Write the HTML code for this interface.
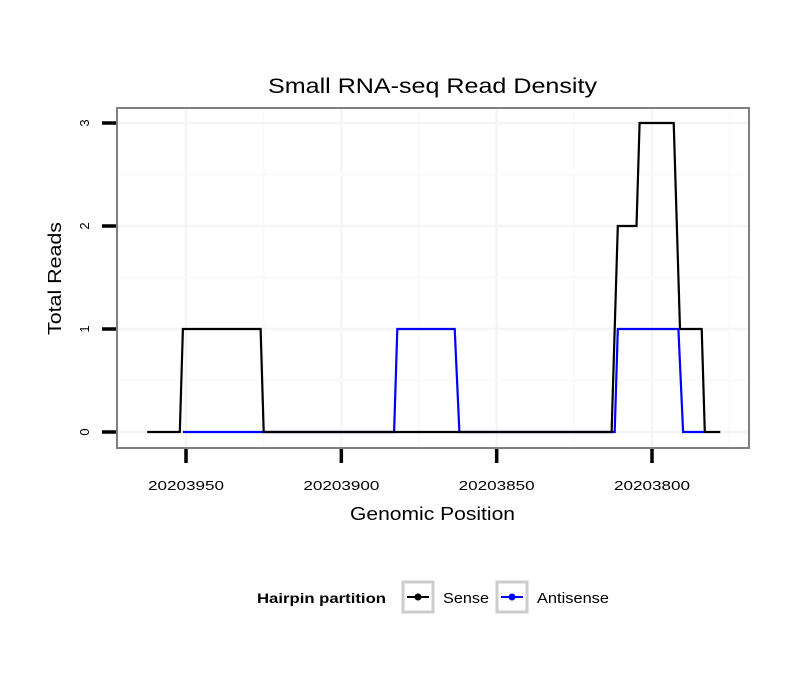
<!DOCTYPE html>
<html><head><meta charset="utf-8"><style>
body{margin:0;background:#fff;}
svg{display:block;font-family:"Liberation Sans",sans-serif;}
</style></head><body>
<svg id="chart" width="810" height="690">
<rect width="810" height="690" fill="#fff"/>
<text x="268" y="93" font-size="21" textLength="329" lengthAdjust="spacingAndGlyphs">Small RNA-seq Read Density</text>
<g id="grid"></g>
<g id="series"></g>
<rect x="117" y="108" width="632" height="340" fill="none" stroke="#7f7f7f" stroke-width="2"/>
<g id="axes"></g>
<text x="350" y="520" font-size="18" textLength="165" lengthAdjust="spacingAndGlyphs">Genomic Position</text>
<text transform="translate(61,335) rotate(-90)" font-size="18" textLength="113" lengthAdjust="spacingAndGlyphs">Total Reads</text>
<g>
<text x="257" y="603" font-size="14" font-weight="bold" textLength="129" lengthAdjust="spacingAndGlyphs">Hairpin partition</text>
<g>
<rect x="403" y="582" width="30" height="30" fill="#fff" stroke="#ccc" stroke-width="3"/>
<line x1="407" y1="597" x2="429" y2="597" stroke="#000" stroke-width="2"/>
<circle cx="418" cy="597" r="3.5" fill="#000"/>
<text x="443" y="603" font-size="15" textLength="46" lengthAdjust="spacingAndGlyphs">Sense</text>
</g>
<g>
<rect x="497" y="582" width="30" height="30" fill="#fff" stroke="#ccc" stroke-width="3"/>
<line x1="501" y1="597" x2="523" y2="597" stroke="#00f" stroke-width="2"/>
<circle cx="512" cy="597" r="3.5" fill="#00f"/>
<text x="537" y="603" font-size="15" textLength="72" lengthAdjust="spacingAndGlyphs">Antisense</text>
</g>
</g>
</svg>
<script>
const xTicks = [20203950, 20203900, 20203850, 20203800];
const yTicks = [0, 1, 2, 3];
const senseX = [20203962.5, 20203952, 20203951, 20203926, 20203925, 20203813, 20203811, 20203805, 20203804, 20203793, 20203791, 20203784, 20203783, 20203778];
const senseY = [0, 0, 1, 1, 0, 0, 2, 2, 3, 3, 1, 1, 0, 0];
const antiX = [20203951, 20203883, 20203882, 20203863.5, 20203862, 20203812, 20203811, 20203791.5, 20203790, 20203783];
const antiY = [0, 0, 1, 1, 0, 0, 1, 1, 0, 0];

const NS = "http://www.w3.org/2000/svg";
function xs(v){ return 186 + (20203950 - v) * (652 - 186) / 150; }
function ys(v){ return 432 - v * 103; }
function mk(tag, attrs, parent){ const e = document.createElementNS(NS, tag); for (const k in attrs) e.setAttribute(k, attrs[k]); parent.appendChild(e); return e; }

const grid = document.getElementById('grid');
const axes = document.getElementById('axes');
const step = xs(xTicks[1]) - xs(xTicks[0]);
for (let i = 0; i < xTicks.length; i++) {
  const x = xs(xTicks[i]);
  const g = mk('line', {x1:x, x2:x, y1:109, y2:447, stroke:'#f5f5f5', 'stroke-width':2.5}, grid);
  
  
  const m = mk('line', {x1:x+step/2, x2:x+step/2, y1:109, y2:447, stroke:'#fafafa', 'stroke-width':2}, grid);
  
  
  const t = mk('line', {x1:x, x2:x, y1:449, y2:463, stroke:'#000', 'stroke-width':3.5}, axes);
  
  
  const l = mk('text', {x:x-38, y:490, 'font-size':13, textLength:76, lengthAdjust:'spacingAndGlyphs'}, axes);
  l.textContent = xTicks[i];
  
  
}
for (let i = 0; i < yTicks.length; i++) {
  const y = ys(yTicks[i]);
  const g = mk('line', {x1:118, x2:748, y1:y, y2:y, stroke:'#f5f5f5', 'stroke-width':2.5}, grid);
  
  
  if (i < yTicks.length - 1) {
    const ym = ys(yTicks[i] + 0.5);
    const m = mk('line', {x1:118, x2:748, y1:ym, y2:ym, stroke:'#fafafa', 'stroke-width':2}, grid);
    
    
  }
  const t = mk('line', {x1:102, x2:116, y1:y, y2:y, stroke:'#000', 'stroke-width':3.5}, axes);
  
  
  const l = mk('text', {transform:'translate(89,'+y+') rotate(-90)', 'font-size':13, 'text-anchor':'middle'}, axes);
  l.textContent = yTicks[i];
  
  
}
const series = document.getElementById('series');
function drawLine(X, Y, color, name){
  const pts = X.map((v, i) => xs(v).toFixed(1) + ',' + ys(Y[i]).toFixed(1)).join(' ');
  const p = mk('polyline', {points:pts, fill:'none', stroke:color, 'stroke-width':2.2}, series);
  
  
}
drawLine(antiX, antiY, '#00f', 'antisense-line');
drawLine(senseX, senseY, '#000', 'sense-line');
</script>
</body></html>
